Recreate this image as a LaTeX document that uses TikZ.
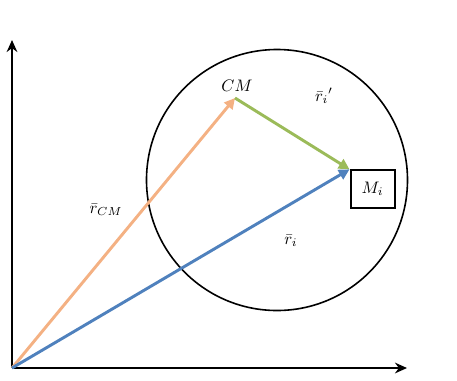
\documentclass[tikz,border=0pt]{standalone}
\usetikzlibrary{arrows.meta}
\definecolor{cmorange}{RGB}{244,177,131}
\definecolor{riblue}{RGB}{79,129,189}
\definecolor{rigreen}{RGB}{155,187,89}
\tikzset{
  axis/.style={line width=2.2pt,-{Stealth[length=9pt,width=8pt]}},
  vec/.style={line width=2.2pt,-{Triangle[length=8pt,width=8pt]}},
  lbl/.style={scale=1.25},
}
\begin{document}
\begin{tikzpicture}[x=0.75pt,y=-0.75pt]
\useasboundingbox (0,0) rectangle (457,380);
\coordinate (O) at (12,368);
\coordinate (ytop) at (12,40);
\coordinate (xend) at (407,368);
\draw[line width=1.2pt] (277,180) circle (130.5);
\draw[axis] (O) -- (ytop);
\draw[axis] (O) -- (xend);
\node[draw,line width=1.5pt,minimum width=33pt,minimum height=28pt,inner sep=1pt] (M) at (372.5,189) {};
\node[lbl] (Mlbl) at (M.center) {$M_i$};
\coordinate (cm) at (235,98);
\node[lbl] (cmlbl) at (237,86) {$CM$};
\draw[vec,cmorange] (O) -- (cm);
\draw[vec,rigreen] (cm) -- (M.north west);
\draw[vec,riblue] (O) -- (M.north west);
\node[lbl] (rcm) at (106,210) {$\bar r_{CM}$};
\node[lbl] (ri) at (291,241) {$\bar r_i$};
\node[lbl] (rip) at (324,96) {$\bar r_i{}'$};
\end{tikzpicture}
\end{document}
